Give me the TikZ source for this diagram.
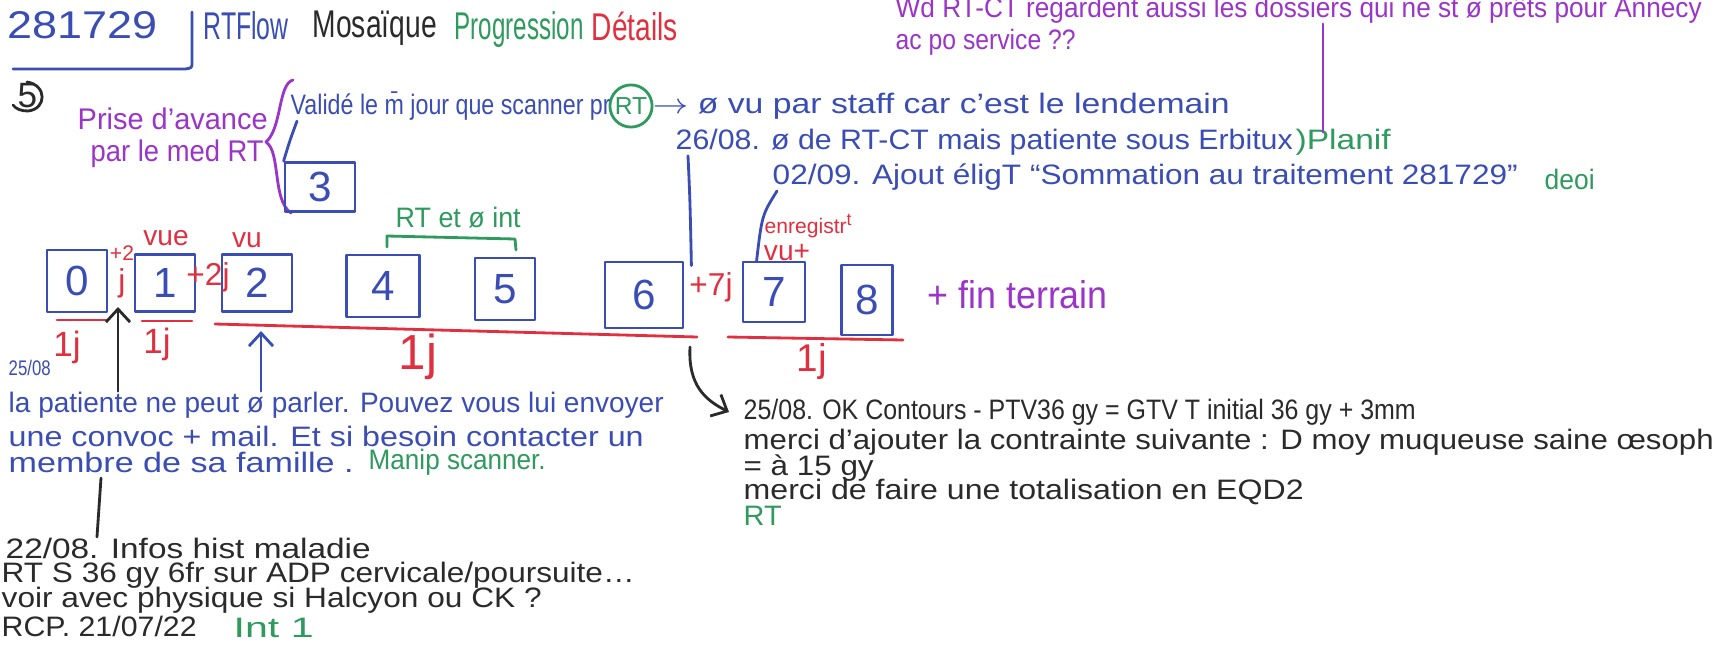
\documentclass[tikz,border=0pt]{standalone}
\usepackage{fontspec}
\setmainfont{Liberation Sans}
\usepackage{graphicx}
\usetikzlibrary{arrows.meta}
\definecolor{inkblue}{HTML}{3A4DB5}
\definecolor{inkred}{HTML}{E0303F}
\definecolor{inkgreen}{HTML}{2E9A5E}
\definecolor{inkpurple}{HTML}{9B35C9}
\definecolor{inkblack}{HTML}{2A2A2A}
\newlength{\pxu}
\setlength{\pxu}{0.1mm}
\newcommand{\hw}[2]{\resizebox{#1\pxu}{\height}{#2}}
\newcommand{\fsz}[1]{\fontsize{#1}{#1}\selectfont}

\begin{document}
\begin{tikzpicture}[
  x=0.1mm,
  y=-0.1mm,
  every node/.style={inner sep=0pt, anchor=west},
  pen/.style={line width=0.8pt, line cap=round, line join=round},
  headword/.style={font=\fsz{11}},
  note/.style={font=\fsz{8}},
  numbox/.style={draw=inkblue, text=inkblue, pen, anchor=center, font=\fsz{12}},
  lab/.style={text=inkred, anchor=center, font=\fsz{8}},
  barb/.style={-{Straight Barb[length=1.3mm, width=2.4mm]}}
]
  \fill[white] (0,0) rectangle (1717,655);
  \useasboundingbox (0,0) rectangle (1717,655);

  % header
  \node[inkblue, headword] (num) at (7,25) {\hw{150}{281729}};
  \draw[inkblue, pen] (192,12) -- (192,62) .. controls (192,68) .. (185,69) -- (13,69);
  \node[inkblue, headword] (rtflow) at (203,26) {\hw{85}{RTFlow}};
  \node[inkblack, headword] (mosaic) at (312,28) {\hw{124}{Mosaïque}};
  \node[inkgreen, headword] (progr) at (454,30) {\hw{129}{Progression}};
  \node[inkred, headword] (details) at (591,26) {\hw{86}{Détails}};

  % question en haut
  \node[inkpurple, note] (quest) at (895,10) {\hw{806}{Wd RT-CT regardent aussi les dossiers qui ne st ø prêts pour Annecy}};
  \node[inkpurple, note] (quest2) at (895,42) {\hw{180}{ac po service ??}};

  % 5)
  \node[inkblack, font=\fsz{10}] (five) at (17,96) {5};
  \draw[inkblack, pen] (27,82) .. controls (47,85) and (47,109) .. (28,111) .. controls (21,111) and (16,109) .. (13,105);

  % prise d'avance
  \node[inkpurple, font=\fsz{8.5}] (prise) at (77,119) {\hw{190}{Prise d'avance}};
  \node[inkpurple, font=\fsz{8.5}] (medrt) at (90,154) {\hw{173}{par le med RT}};
  \draw[inkpurple, pen] (293,80) .. controls (278,84) and (282,128) .. (266,142) .. controls (281,152) and (272,200) .. (291,213);

  \node[inkblue, note] (valid) at (290,106) {\hw{320}{Validé le \={m} jour que scanner pr}};
  \node[draw=inkgreen, text=inkgreen, pen, circle, anchor=center, inner sep=0.6pt, font=\fsz{7}] (rtc) at (631,106) {RT};
  \node[inkblue, note] (valid2) at (652,106) {\hw{577}{$\rightarrow$ ø vu par staff car c'est le lendemain}};

  \node[inkblue, note] (d2608) at (675,142) {\hw{617}{26/08. ø de RT-CT mais patiente sous Erbitux}};
  \node[inkgreen, note] (planif) at (1295,142) {\hw{95}{)Planif}};
  \coordinate (qfoot) at (1323,132);
  \draw[inkpurple, pen] (quest.south -| qfoot) -- (qfoot);

  \node[inkblue, note] (d0209) at (772,177) {\hw{745}{02/09. Ajout éligT ``Sommation au traitement 281729''}};
  \node[inkgreen, note] (deoi) at (1544,179) {\hw{50}{deoi}};

  % cases
  \node[numbox, minimum width=6.0mm, minimum height=6.2mm] (b0) at (77,281) {0};
  \node[numbox, minimum width=6.0mm, minimum height=5.7mm] (b1) at (165,283) {1};
  \node[numbox, minimum width=7.0mm, minimum height=5.7mm] (b2) at (257,283) {2};
  \node[numbox, minimum width=7.0mm, minimum height=4.9mm] (b3) at (320,187) {3};
  \node[numbox, minimum width=7.3mm, minimum height=6.2mm] (b4) at (383,286) {4};
  \node[numbox, minimum width=6.0mm, minimum height=6.2mm] (b5) at (505,289) {5};
  \node[numbox, minimum width=7.8mm, minimum height=6.6mm] (b6) at (644,295) {6};
  \node[numbox, minimum width=6.2mm, minimum height=6.0mm] (b7) at (774,292) {7};
  \node[numbox, minimum width=5.1mm, minimum height=7.0mm] (b8) at (867,300) {8};

  \draw[inkblue, pen] ([xshift=0.7mm]valid.south west) .. controls (290,140) .. (b3.north west);

  % delais
  \node[lab, align=center] (p01) at (122,272) {{\fsz{6}+2}\\[1pt]{\fsz{9}j}};
  \node[lab] (vue1) at (166,238) {vue};
  \node[lab, font=\fsz{9}] (p12) at (208,277) {+2j};
  \node[lab] (vu2) at (247,240) {vu};
  \node[lab, font=\fsz{9}] (p67) at (711,287) {+7j};
  \node[lab, font=\fsz{6}] (enreg) at (809,226) {enregistr\textsuperscript{t}};
  \node[lab] (vu7) at (787,253) {vu+};

  \node[inkgreen, note] (rtint) at (395,218) {\hw{125}{RT et ø int}};
  \draw[inkgreen, pen] (387,247) -- (387,236) -- (515,239) -- (516,250);

  \node[inkpurple, headword] (fin) at (927,295) {\hw{180}{+ fin terrain}};

  % durees
  \draw[inkred, pen] (57,320) -- (107,320);
  \draw[inkred, pen] (142,321) -- (192,321);
  \draw[inkred, pen] (215,324) -- (697,337);
  \draw[inkred, pen] (728,337) -- (903,340);
  \node[lab, font=\fsz{10}] (j0) at (67,347) {1j};
  \node[lab, font=\fsz{10}] (j1) at (157,344) {1j};
  \node[lab, font=\fsz{14}] (j2) at (418,357) {1j};
  \node[lab, font=\fsz{11}] (j7) at (812,362) {1j};

  \draw[inkblue, pen] ([xshift=1.3mm]d2608.south west) .. controls (690,200) .. ([xshift=0.7mm, yshift=-0.5mm]b6.north east);
  \draw[inkblue, pen] ([xshift=1.5mm]b7.north west) .. controls (762,215) .. ([xshift=0.5mm]d0209.south west);

  % notes en bas a gauche
  \node[inkblue, font=\fsz{6}] (d2508) at (8,368) {\hw{42}{25/08}};
  \node[inkblue, note] (pat1) at (8,405) {\hw{655}{la patiente ne peut ø parler. Pouvez vous lui envoyer}};
  \node[inkblue, note] (pat2) at (8,436) {\hw{635}{une convoc + mail. Et si besoin contacter un}};
  \node[inkblue, note] (pat3) at (8,462) {\hw{345}{membre de sa famille .}};
  \node[inkgreen, note] (manip) at (368,462) {\hw{177}{Manip scanner.}};

  \coordinate (gap01) at (118,307);
  \coordinate (under2) at (261,331);
  \draw[inkblack, pen, barb] (pat1.north -| gap01) -- (gap01);
  \draw[inkblue, pen, barb] (pat1.north -| under2) -- (under2);

  \node[inkblack, note] (hist) at (5,548) {\hw{365}{22/08. Infos hist maladie}};
  \node[inkblack, note] (hist2) at (1,575) {\hw{633}{RT S 36 gy 6fr sur ADP cervicale/poursuite\dots}};
  \node[inkblack, note] (hist3) at (1,600) {\hw{540}{voir avec physique si Halcyon ou CK ?}};
  \node[inkblack, note] (rcp) at (1,626) {\hw{195}{RCP. 21/07/22}};
  \node[inkgreen, note] (int1) at (233,628) {\hw{80}{Int 1}};
  \coordinate (tick) at (101,478);
  \draw[inkblack, pen] (tick) -- ([xshift=9.2mm]hist.north west);

  % notes en bas a droite
  \node[inkblack, note] (ok2508) at (743,412) {\hw{672}{25/08. OK Contours - PTV36 gy = GTV T initial 36 gy + 3mm}};
  \node[inkblack, note] (merci1) at (743,442) {\hw{970}{merci d'ajouter la contrainte suivante : D moy muqueuse saine œsoph}};
  \node[inkblack, note] (merci2) at (743,468) {\hw{130}{= à 15 gy}};
  \node[inkblack, note] (merci3) at (743,492) {\hw{560}{merci de faire une totalisation en EQD2}};
  \node[inkgreen, note] (rtsig) at (743,516) {\hw{38}{RT}};

  \coordinate (from6) at (690,347);
  \draw[inkblack, pen, barb] (from6) .. controls (688,385) and (705,400) .. ([xshift=-1.4mm]ok2508.west);
\end{tikzpicture}
\end{document}
